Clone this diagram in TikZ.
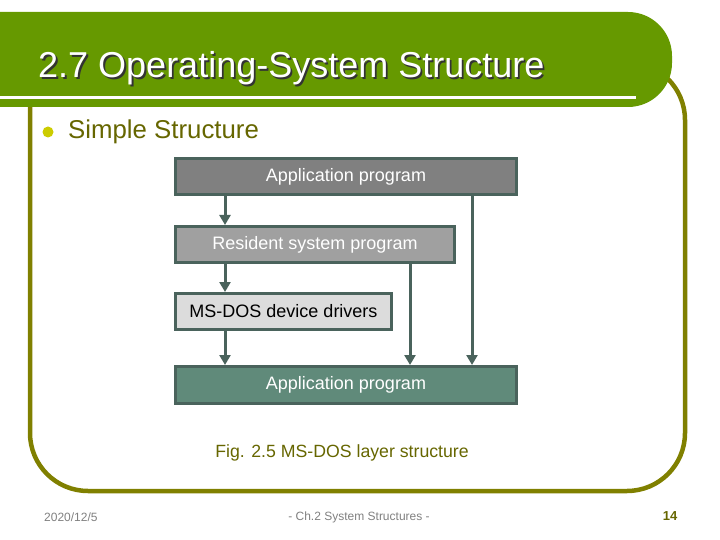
\documentclass[tikz,border=0pt]{standalone}
\usepackage{fontspec}
\setmainfont{Liberation Sans}
\usetikzlibrary{arrows.meta, positioning}
\definecolor{hdrgreen}{RGB}{102,153,0}
\definecolor{frameolive}{RGB}{128,128,0}
\definecolor{capolive}{RGB}{102,102,0}
\definecolor{dotyellow}{RGB}{204,204,0}
\definecolor{linkslate}{RGB}{74,99,92}
\definecolor{appgray}{RGB}{128,128,128}
\definecolor{resgray}{RGB}{160,160,160}
\definecolor{drvgray}{RGB}{220,220,220}
\definecolor{appteal}{RGB}{96,138,122}
\tikzstyle{layer}=[draw=linkslate,line width=3pt,rectangle,inner sep=0pt,minimum height=36pt,font=\fontsize{18}{21}\selectfont]
\tikzstyle{flow}=[draw=linkslate,line width=3pt,-{Triangle[length=10pt,width=11pt]}]
\tikzstyle{foot}=[text=gray,font=\fontsize{12}{14}\selectfont]
\newcommand{\shadowed}[1]{\makebox[0pt][l]{\hspace{1.8pt}\raisebox{-1.8pt}{\color{black!80}#1}}#1}

\begin{document}
\begin{tikzpicture}[x=1pt,y=-1pt]
  \useasboundingbox (0,0) rectangle (720,540);
  % frame and header
  \draw[frameolive,line width=4.5pt,rounded corners=58pt]
    (30,100) -- (30,491) -- (685,491) -- (685,62) -- (640,62);
  \fill[hdrgreen,rounded corners=44pt] (-60,12) -- (672,12) -- (672,107) -- (-60,107) -- cycle;
  \fill[white] (0,96.5) rectangle (636,99.5);
  \node[anchor=base west,inner sep=0pt,text=white,font=\fontsize{36}{40}\selectfont] (title) at (38,78) {\shadowed{2.7 Operating-System Structure}};
  % bullet
  \node[circle,fill=dotyellow,inner sep=0pt,minimum size=11pt] (dot) at (48,132) {};
  \node[anchor=west,inner sep=0pt,text=capolive,font=\fontsize{25.8}{29}\selectfont] (simple) at (68,132) {Simple Structure};
  % layers
  \node[layer,fill=appgray,text=white,minimum width=341pt] (appl) at (346,176.5) {Application program};
  \node[layer,fill=resgray,text=white,minimum width=279pt,below=29pt of appl.south west,anchor=north west] (res) {Resident system program};
  \node[layer,fill=drvgray,text=black,minimum width=216pt,below=28pt of res.south west,anchor=north west] (drv) {MS-DOS device drivers};
  \node[layer,fill=appteal,text=white,minimum width=341pt,minimum height=37pt,below=34pt of drv.south west,anchor=north west] (rom) {Application program};
  \coordinate (tapA) at (225,0);
  \coordinate (tapB) at (410,0);
  \coordinate (tapC) at (472,0);
  \draw[flow] (appl.south -| tapA) -- (res.north -| tapA);
  \draw[flow] (res.south -| tapA) -- (drv.north -| tapA);
  \draw[flow] (drv.south -| tapA) -- (rom.north -| tapA);
  \draw[flow] (res.south -| tapB) -- (rom.north -| tapB);
  \draw[flow] (appl.south -| tapC) -- (rom.north -| tapC);
  % caption and footer
  \node[text=capolive,font=\fontsize{17.7}{20}\selectfont] (caption) at (342,453) {Fig. 2.5 MS-DOS layer structure};
  \node[foot,anchor=west,inner sep=0pt] (date) at (44,517) {2020/12/5};
  \node[foot] (chap) at (359,517) {- Ch.2 System Structures -};
  \node[text=capolive,font=\bfseries\fontsize{13}{15}\selectfont] (page) at (670,516) {14};
\end{tikzpicture}
\end{document}
